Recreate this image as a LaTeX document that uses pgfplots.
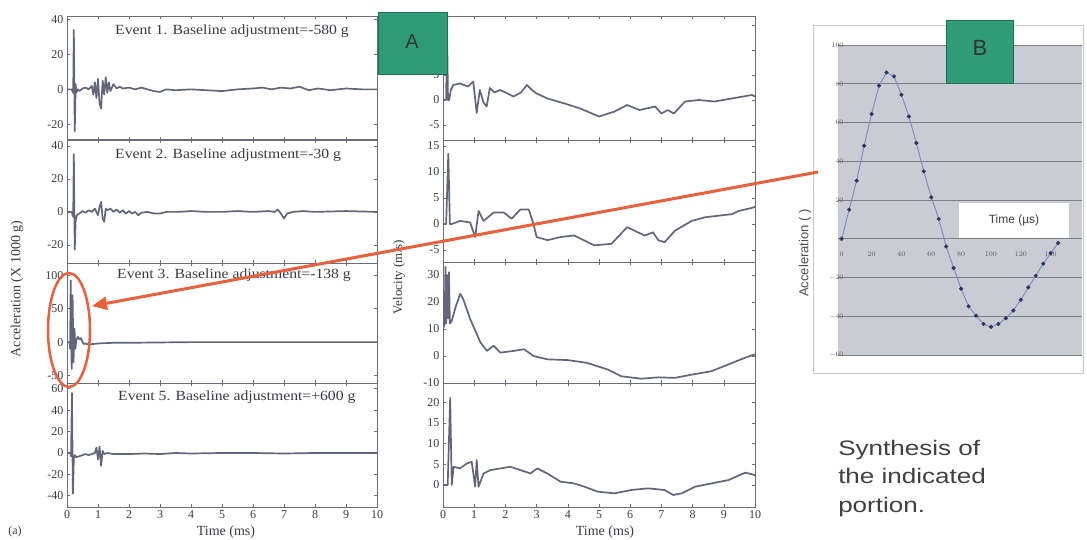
\documentclass[border=0pt]{standalone}
\usepackage{pgfplots}
\pgfplotsset{compat=1.18}
\usepackage{fontspec}
\setmainfont{Liberation Serif}
\newfontfamily\arial{Liberation Sans}
\usetikzlibrary{arrows.meta}
\definecolor{axc}{HTML}{6A6D78}
\definecolor{trc}{HTML}{62667A}
\definecolor{txtc}{HTML}{3A3A42}
\definecolor{grn}{HTML}{2F9C77}
\definecolor{grnd}{HTML}{1F6F55}
\definecolor{redc}{HTML}{E8603C}
\definecolor{bgrey}{HTML}{C9CCD2}
\definecolor{gridc}{HTML}{7C7F86}
\definecolor{bline}{HTML}{7F8FC0}
\definecolor{bmark}{HTML}{2C3566}
\definecolor{framec}{HTML}{C8C8C8}
\pgfplotsset{
 tr/.style={draw=trc, line width=1.7pt, mark=none, line join=round},
 base/.style={scale only axis, anchor=north west, xmin=0, xmax=10, clip=true,
   axis line style={draw=axc, line width=1pt},
   tick style={draw=axc, line width=0.6pt},
   major tick length=3pt, tick align=inside,
   xtick={0,...,10}, xticklabels={},
   tick label style={font=\fontsize{12}{12}\selectfont, text=txtc},
   /pgf/number format/assume math mode=true,
 },
 lp/.style={base, width=310pt},
 mp/.style={base, width=312pt},
}
\begin{document}
\begin{tikzpicture}
\path[use as bounding box] (0,0) rectangle (1087pt,-539pt);
% ---------------- Left column: acceleration ----------------
\begin{axis}[lp, at={(67pt,-16pt)}, height=124pt, ymin=-29, ymax=42, ytick={-20,0,20,40}]
\addplot[tr] coordinates {(0,0) (0.15,0) (0.2,-2) (0.22,34) (0.25,-24) (0.28,3) (0.3,-2) (0.35,0) (0.4,-1) (0.5,0.5) (0.6,1) (0.7,0) (0.8,2) (0.85,-3) (0.9,4) (0.95,-5) (1.0,6) (1.05,-8) (1.1,-11) (1.15,5) (1.2,-3) (1.25,7) (1.3,-2) (1.35,4) (1.4,-1) (1.5,3) (1.6,0.5) (1.7,1.5) (1.8,0.5) (2.0,1) (2.2,0) (2.4,1) (2.6,0) (2.8,-1) (3.0,-1.5) (3.2,0) (3.5,-0.5) (4.0,0) (4.5,-0.5) (5.0,-1) (5.5,0) (6.0,0.5) (6.3,1) (6.6,0) (6.9,1) (7.2,0.5) (7.5,1.5) (7.8,-0.5) (8.1,0.5) (8.5,-0.5) (9.0,0.5) (9.5,0) (10,0)};
\end{axis}
\begin{axis}[lp, at={(67pt,-140pt)}, height=123pt, ymin=-31, ymax=43.6, ytick={-20,0,20,40}]
\addplot[tr] coordinates {(0,0) (0.15,0) (0.2,-3) (0.22,35) (0.25,-23) (0.28,-5) (0.32,-2) (0.4,-1) (0.5,0.5) (0.6,-0.5) (0.7,1) (0.8,0) (0.9,2) (1.0,-2) (1.05,3) (1.1,6) (1.15,-4) (1.2,-6) (1.25,2) (1.3,1) (1.4,2) (1.5,0) (1.6,1.5) (1.7,-0.5) (1.8,1) (1.9,-1) (2.0,0.5) (2.1,-1) (2.2,0) (2.3,-2) (2.4,-0.5) (2.6,0) (2.8,-1) (3.0,-1) (3.2,0) (3.6,0) (4.0,0.5) (4.5,0) (5.0,0) (5.5,0.5) (6.0,0) (6.5,0.5) (6.7,0) (6.8,1.5) (6.9,-1) (7.0,-4) (7.1,-1) (7.3,0) (7.6,0.5) (8.0,0) (9.0,0.5) (10,0)};
\end{axis}
\begin{axis}[lp, at={(67pt,-263pt)}, height=120pt, ymin=-61, ymax=118, ytick={-50,0,50,100}]
\addplot[tr] coordinates {(0,0) (0.08,0) (0.1,-10) (0.12,92) (0.15,-40) (0.18,70) (0.21,-30) (0.24,20) (0.27,-10) (0.3,3) (0.35,8) (0.4,4) (0.45,6) (0.5,0) (0.55,-3) (0.6,-2) (0.7,-4) (0.8,-3) (1.0,-2) (1.5,-1) (2.0,-1) (3.0,-0.5) (4.0,0) (6.0,0) (8.0,0) (10,0)};
\end{axis}
\begin{axis}[lp, at={(67pt,-383pt)}, height=124pt, ymin=-50.5, ymax=65.4, ytick={-40,-20,0,20,40,60}, xticklabels={0,1,2,3,4,5,6,7,8,9,10}]
\addplot[tr] coordinates {(0,0) (0.1,0) (0.13,-3) (0.16,56) (0.19,-38) (0.22,-5) (0.25,-2) (0.3,-4) (0.4,-3) (0.5,-2) (0.6,-1) (0.7,-2) (0.8,-1) (0.9,0) (0.95,5) (1.0,-6) (1.05,6) (1.1,-12) (1.15,2) (1.2,-1) (1.3,0) (1.5,-1) (2.0,-1) (2.5,-0.5) (3.0,-1) (3.5,0) (4,-0.5) (5,0) (6,0) (7,-0.5) (8,0) (9,0) (10,0)};
\end{axis}
% ---------------- Middle column: velocity ----------------
\begin{axis}[mp, at={(443pt,-16pt)}, height=124pt, ymin=-8, ymax=16.8, ytick={-5,0,5,10,15}]
\addplot[tr] coordinates {(0,0) (0.1,0) (0.13,14) (0.16,0) (0.2,0) (0.25,2) (0.33,3) (0.54,3.3) (0.81,2.7) (0.97,3.7) (1.08,-2.6) (1.18,2) (1.3,-0.5) (1.4,-1.3) (1.5,2.4) (1.65,1.5) (1.83,2) (2.0,1.5) (2.26,0.7) (2.5,1.5) (2.69,3) (2.85,2) (3.0,1.3) (3.35,0.3) (3.9,-0.7) (4.4,-1.7) (5.0,-3.3) (5.5,-2.3) (5.9,-1) (6.3,-2) (6.8,-1.3) (7.0,-2.7) (7.2,-2) (7.4,-2.7) (7.76,-0.3) (8.2,0) (8.7,-0.3) (9.25,0.3) (9.9,1) (10,0.7)};
\end{axis}
\begin{axis}[mp, at={(443pt,-140pt)}, height=122pt, ymin=-7.3, ymax=16.15, ytick={-5,0,5,10,15}]
\addplot[tr] coordinates {(0,0) (0.1,0) (0.17,13.5) (0.22,0) (0.28,0) (0.55,0.6) (0.87,0.3) (1.03,-2.5) (1.14,2.5) (1.3,0.6) (1.62,2.2) (1.95,2.2) (2.2,1) (2.48,2.8) (2.75,2.8) (2.9,0) (3.0,-2.5) (3.35,-3.1) (3.77,-2.5) (4.2,-2.2) (4.85,-4.1) (5.4,-3.8) (5.9,-0.6) (6.46,-2.2) (6.73,-1.6) (6.9,-3.1) (7.1,-3.5) (7.43,-1.3) (7.97,0.6) (8.4,1.3) (8.83,1.6) (9.26,1.9) (9.47,2.5) (9.9,3.1) (10,3.3)};
\end{axis}
\begin{axis}[mp, at={(443pt,-262pt)}, height=121pt, ymin=-10, ymax=34.8, ytick={-10,0,10,20,30}]
\addplot[tr] coordinates {(0,10) (0.05,12) (0.08,33) (0.1,12) (0.13,30) (0.16,14) (0.19,31) (0.22,12) (0.28,13) (0.4,18) (0.55,23) (0.65,21) (0.87,13.7) (1.2,5) (1.41,1.9) (1.62,3.8) (1.84,1.25) (2.27,1.9) (2.6,2.5) (2.9,0) (3.35,-1.25) (3.99,-1.5) (4.6,-2.5) (5.28,-5) (5.71,-7.5) (6.35,-8.4) (6.9,-7.9) (7.43,-8.1) (7.97,-6.9) (8.61,-5.6) (9.15,-3.1) (9.69,-0.6) (10,0.6)};
\end{axis}
\begin{axis}[mp, at={(443pt,-383pt)}, height=124pt, ymin=-5.3, ymax=24.6, ytick={0,5,10,15,20}, xticklabels={0,1,2,3,4,5,6,7,8,9,10}]
\addplot[tr] coordinates {(0,0) (0.15,0) (0.23,21) (0.28,0) (0.34,4.4) (0.55,4) (0.76,5.2) (0.92,5.6) (1.03,-0.4) (1.08,6) (1.14,-0.4) (1.3,2.8) (1.52,3.6) (1.84,4) (2.16,4.4) (2.48,3.6) (2.8,2.8) (3.02,4) (3.34,2.8) (3.77,0.8) (4.2,0.4) (4.53,-0.4) (4.96,-1.6) (5.5,-2) (6.03,-1.2) (6.57,-0.8) (7.1,-1.2) (7.38,-2.4) (7.65,-2) (8.08,-0.4) (8.61,0.4) (9.15,1.2) (9.69,3) (10,2.4)};
\end{axis}
% ---------------- Panel B frame ----------------
\draw[framec, fill=white, line width=0.8pt] (813pt,-25pt) rectangle (1083pt,-373pt);
\begin{axis}[at={(838pt,-45pt)}, anchor=north west, scale only axis, width=244pt, height=310pt,
  xmin=-2.5, xmax=161, ymin=-60, ymax=100,
  axis background/.style={fill=bgrey},
  axis x line=middle, axis y line=left, axis line style={draw=none},
  hide obscured x ticks=false, hide obscured y ticks=false,
  ytick={-60,-40,...,100}, xtick={0,20,...,140},
  ymajorgrids, grid style={draw=gridc, line width=0.8pt},
  major tick length=0pt,
  tick label style={font=\arial\fontsize{7}{7}\selectfont, text=black!65},
  yticklabel style={xshift=9pt}, xticklabel style={yshift=-10pt}]
\addplot[color=bline, line width=1pt, mark=*, mark size=1.5pt, mark options={fill=bmark, draw=bmark}] coordinates {(0,0) (5,15) (10,30) (15,48) (20,64.4) (25,79) (30,85.8) (35,83.8) (40,74.3) (45,63.1) (50,49.4) (55,34.8) (60,21.4) (65,10.2) (70,-4) (75,-15.1) (80,-25.8) (85,-34.9) (90,-39.7) (95,-44) (100,-45.5) (105,-44) (110,-41) (115,-37) (120,-31.5) (125,-25.1) (130,-19.1) (135,-12.9) (140,-7.4) (145,-2.2)};
\end{axis}
% ---------------- Annotations ----------------
\begin{scope}[x=1pt, y=-1pt]
\begin{scope}[every node/.style={anchor=west, text=txtc, font=\fontsize{14}{14}\selectfont, xscale=1.12, inner sep=0pt}]
\node at (115,31) {Event 1. Baseline adjustment=-580 g};
\node at (115,155) {Event 2. Baseline adjustment=-30 g};
\node at (117,275) {Event 3. Baseline adjustment=-138 g};
\node at (118,397) {Event 5. Baseline adjustment=+600 g};
\end{scope}
\node[rotate=90, text=txtc, font=\fontsize{14}{14}\selectfont] at (17,289) {Acceleration (X 1000 g)};
\node[rotate=90, text=txtc, font=\fontsize{13}{13}\selectfont] at (399,277) {Velocity (m/s)};
\node[text=txtc, font=\fontsize{14}{14}\selectfont] at (226,532) {Time (ms)};
\node[text=txtc, font=\fontsize{14}{14}\selectfont] at (605,532) {Time (ms)};
\node[text=txtc, font=\fontsize{12}{12}\selectfont] at (15,532) {(a)};
\draw[grnd, fill=grn, line width=0.8pt] (378,12) rectangle (447,74);
\node[font=\arial\fontsize{20}{20}\selectfont, text=black!80] at (412,42) {A};
\draw[grnd, fill=grn, line width=0.8pt] (946,20) rectangle (1013,83);
\node[font=\arial\fontsize{22}{22}\selectfont, text=black!80] at (980,48) {B};
\node[fill=white, minimum width=110pt, minimum height=35pt, font=\arial\fontsize{12}{12}\selectfont, text=black!75] at (1014,220.5) {Time (µs)};
\node[rotate=90, font=\arial\fontsize{13}{13}\selectfont, text=black!70] at (805,253) {Acceleration ( )};
\node[anchor=north west, align=left, font=\arial\fontsize{21}{28.5}\selectfont, text=black!75, xscale=1.24, inner sep=0pt] at (838,440) {Synthesis of\\the indicated\\portion.};
\draw[redc, line width=3pt, -{Triangle[length=15pt,width=13pt]}] (818,172) -- (92,306);
\draw[redc, line width=2.5pt] (69,330) ellipse (21 and 57);
\end{scope}
\end{tikzpicture}
\end{document}
